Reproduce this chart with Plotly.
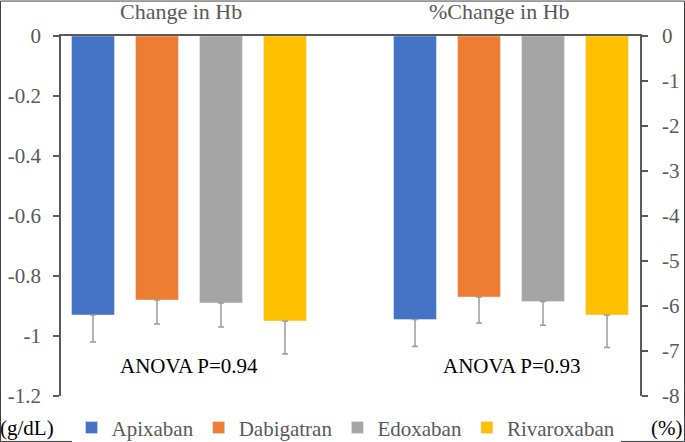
import plotly.graph_objects as go

# ---- data ----
drugs = ["Apixaban", "Dabigatran", "Edoxaban", "Rivaroxaban"]
colors = ["#4472C4", "#ED7D31", "#A5A5A5", "#FFC000"]
panels = ["Change in Hb", "%Change in Hb"]

change_hb = [-0.93, -0.88, -0.89, -0.95]          # g/dL
change_hb_err = [0.09, 0.08, 0.08, 0.11]
pct_change_hb = [-6.3, -5.8, -5.9, -6.2]          # %
pct_change_hb_err = [0.60, 0.58, 0.53, 0.72]

left_ticks = [0, -0.2, -0.4, -0.6, -0.8, -1, -1.2]
left_ticktext = ["0", "-0.2", "-0.4", "-0.6", "-0.8", "-1", "-1.2"]
right_ticks = [0, -1, -2, -3, -4, -5, -6, -7, -8]
right_ticktext = ["0", "-1", "-2", "-3", "-4", "-5", "-6", "-7", "-8"]

anova_left = "ANOVA P=0.94"
anova_right = "ANOVA P=0.93"

FONT = "Liberation Serif, Times New Roman, serif"
GRAY = "#595959"

fig = go.Figure()
for i, d in enumerate(drugs):
    fig.add_trace(go.Bar(
        x=[0], y=[change_hb[i]], name=d, marker_color=colors[i],
        legendgroup=d, showlegend=True, yaxis="y",
        error_y=dict(type="data", symmetric=False, array=[0],
                     arrayminus=[change_hb_err[i]], color="#9a9a9a",
                     thickness=1.5, width=3),
    ))
for i, d in enumerate(drugs):
    fig.add_trace(go.Bar(
        x=[1], y=[pct_change_hb[i]], name=d, marker_color=colors[i],
        legendgroup=d, showlegend=False, yaxis="y2",
        error_y=dict(type="data", symmetric=False, array=[0],
                     arrayminus=[pct_change_hb_err[i]], color="#9a9a9a",
                     thickness=1.5, width=3),
    ))

W, H = 685, 442
L, R, T, B = 61, 640, 35.5, 396
pw, ph = R - L, B - T

def px(x):
    return (x - L) / pw

def py(y):
    return 1 - (y - T) / ph

fig.update_layout(
    width=W, height=H,
    margin=dict(l=L, r=W - R, t=T, b=H - B, pad=0, autoexpand=False),
    paper_bgcolor="white", plot_bgcolor="white",
    barmode="group", bargap=0.205, bargroupgap=0.33,
    font=dict(family=FONT, size=21, color=GRAY),
    xaxis=dict(range=[-0.3975, 1.4006], side="top", showline=True,
               linecolor=GRAY, linewidth=1.5, showticklabels=False,
               ticks="", showgrid=False, zeroline=False, fixedrange=True),
    yaxis=dict(range=[-1.2, 0], tickvals=left_ticks, ticktext=left_ticktext,
               showline=True, linecolor=GRAY, linewidth=1.5, ticks="outside",
               ticklen=6, tickcolor=GRAY, tickwidth=1.5, showgrid=False,
               zeroline=False, ticklabelstandoff=8, automargin=False,
               tickfont=dict(family=FONT, size=21, color=GRAY)),
    yaxis2=dict(range=[-8, 0], tickvals=right_ticks, ticktext=right_ticktext,
                overlaying="y", side="right", anchor="x",
                showline=True, linecolor=GRAY, linewidth=1.5, ticks="outside",
                ticklen=6, tickcolor=GRAY, tickwidth=1.5, showgrid=False,
                zeroline=False, ticklabelstandoff=10, automargin=False,
                tickfont=dict(family=FONT, size=21, color=GRAY)),
    legend=dict(orientation="h", x=px(346), xanchor="center",
                y=py(428), yanchor="middle",
                font=dict(family=FONT, size=21, color=GRAY),
                itemwidth=30, traceorder="normal"),
    showlegend=True,
)

# panel titles
fig.add_annotation(text=panels[0], x=px(181), y=py(11), xref="paper", yref="paper",
                   showarrow=False, font=dict(family=FONT, size=22, color=GRAY),
                   xanchor="center", yanchor="middle")
fig.add_annotation(text=panels[1], x=px(499), y=py(11), xref="paper", yref="paper",
                   showarrow=False, font=dict(family=FONT, size=22, color=GRAY),
                   xanchor="center", yanchor="middle")
# ANOVA
fig.add_annotation(text=anova_left, x=0, y=-1.1, xref="x", yref="y",
                   xanchor="center", yanchor="middle",
                   showarrow=False, font=dict(family=FONT, size=21, color="black"))
fig.add_annotation(text=anova_right, x=1, y=-7.33, xref="x", yref="y2",
                   xanchor="center", yanchor="middle",
                   showarrow=False, font=dict(family=FONT, size=21, color="black"))
# units
fig.add_annotation(text="(g/dL)", x=px(27), y=py(428), xref="paper", yref="paper",
                   xanchor="center", yanchor="middle",
                   showarrow=False, font=dict(family=FONT, size=21, color="black"))
fig.add_annotation(text="(%)", x=px(666), y=py(428), xref="paper", yref="paper",
                   xanchor="center", yanchor="middle",
                   showarrow=False, font=dict(family=FONT, size=21, color="black"))

# outer border
fig.add_shape(type="rect", xref="paper", yref="paper",
              x0=px(0.5), x1=px(684.5), y0=py(441.5), y1=py(0.5),
              line=dict(color="#404040", width=1))

fig.write_html("out.html", config={"displayModeBar": False},
               post_script="document.body.style.margin='0';document.body.style.overflow='hidden';")
